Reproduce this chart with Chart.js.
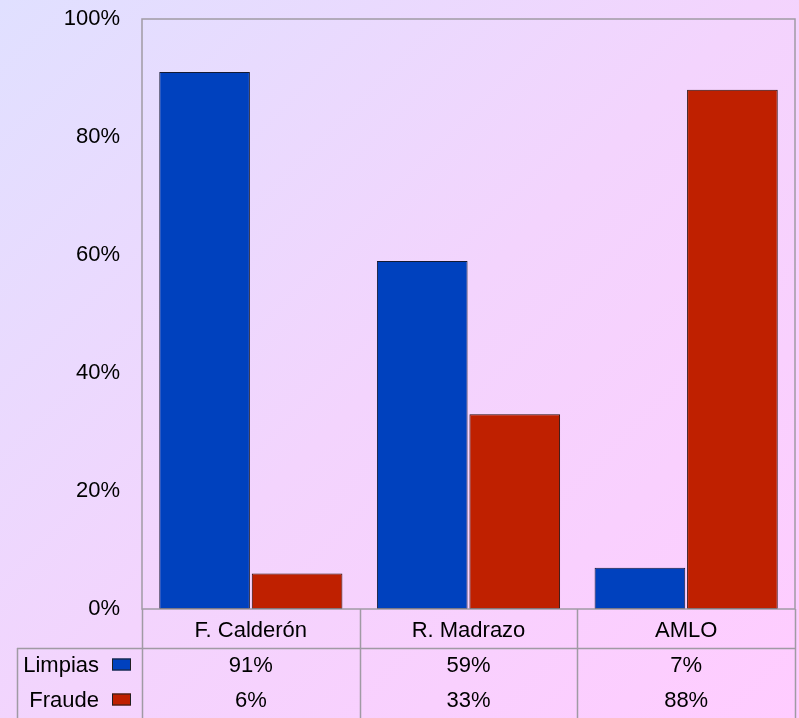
<!DOCTYPE html>
<html>
<head>
<meta charset="utf-8">
<script src="https://cdn.jsdelivr.net/npm/chart.js@4/dist/chart.umd.min.js"></script>
<style>
  html, body { margin: 0; padding: 0; }
  body { width: 799px; height: 718px; overflow: hidden;
    background: linear-gradient(135deg, #e0e0ff 0%, #f3d4fd 50%, #ffccff 100%); }
  canvas { display: block; }
</style>
</head>
<body>
<canvas id="myChart" width="799" height="718"></canvas>
<script>
var categories = ["F. Calderón", "R. Madrazo", "AMLO"];
var seriesNames = ["Limpias", "Fraude"];
var limpias = [91, 59, 7];
var fraude = [6, 33, 88];
var yTicks = [0, 20, 40, 60, 80, 100];

var colors = ["#0041be", "#bf2000"];
var lineColor = "#a09aa4";
var font = "22px 'Liberation Sans', Arial, sans-serif";

// draws the plot frame and the data table under the x axis
var tablePlugin = {
  id: "table",
  afterDraw: function (chart) {
    var ctx = chart.ctx;
    var a = chart.chartArea;
    var x = chart.scales.x;
    var rowTop = 648, rowH = 35, left = 17, bottom = 718;
    var series = [limpias, fraude];
    var step = x.getPixelForValue(1) - x.getPixelForValue(0);
    ctx.save();
    ctx.strokeStyle = lineColor;
    ctx.lineWidth = 1.5;
    ctx.strokeRect(a.left, a.top, a.right - a.left, a.bottom - a.top);
    ctx.beginPath();
    // category dividers
    for (var i = 0; i <= categories.length; i++) {
      var px = x.getPixelForValue(i) - step / 2;
      ctx.moveTo(Math.round(px) + 0.5, a.bottom);
      ctx.lineTo(Math.round(px) + 0.5, bottom);
    }
    ctx.moveTo(left + 0.5, rowTop);
    ctx.lineTo(left + 0.5, bottom);
    ctx.moveTo(left, rowTop + 0.5);
    ctx.lineTo(a.right, rowTop + 0.5);
    ctx.stroke();

    ctx.font = font;
    ctx.textBaseline = "middle";
    for (var s = 0; s < series.length; s++) {
      var cy = rowTop + rowH * s + rowH / 2;
      ctx.textAlign = "right";
      ctx.fillStyle = "#000";
      ctx.fillText(seriesNames[s], 99, cy);
      ctx.fillStyle = colors[s];
      ctx.fillRect(112, cy - 7, 19, 12);
      ctx.strokeStyle = "#202020";
      ctx.lineWidth = 1;
      ctx.strokeRect(112.5, cy - 6.5, 18, 11);
      ctx.fillStyle = "#000";
      ctx.textAlign = "center";
      for (var c = 0; c < categories.length; c++) {
        ctx.fillText(series[s][c] + "%", x.getPixelForValue(c), cy);
      }
    }
    ctx.restore();
  }
};

var ctx = document.getElementById("myChart").getContext("2d");
var chart = new Chart(ctx, {
  type: "bar",
  data: {
    labels: categories,
    datasets: [
      { label: seriesNames[0], data: limpias, backgroundColor: colors[0],
        borderColor: "#141a33", borderWidth: 1, borderSkipped: false,
        categoryPercentage: 0.85, barPercentage: 0.98 },
      { label: seriesNames[1], data: fraude, backgroundColor: colors[1],
        borderColor: "#2a0c08", borderWidth: 1, borderSkipped: false,
        categoryPercentage: 0.85, barPercentage: 0.98 }
    ]
  },
  options: {
    responsive: false,
    animation: false,
    events: [],
    layout: { padding: { top: 19, right: 4, left: 0, bottom: 0 } },
    plugins: { legend: { display: false }, tooltip: { enabled: false } },
    scales: {
      y: {
        min: 0, max: 100,
        afterBuildTicks: function (scale) {
          scale.ticks = yTicks.map(function (v) { return { value: v }; });
        },
        afterFit: function (scale) {
          scale.width = 142;
          scale.paddingTop = 0;
          scale.paddingBottom = 0;
        },
        grid: { display: false, drawTicks: false },
        border: { display: false },
        ticks: { padding: 22, color: "#000", font: { family: "'Liberation Sans', Arial, sans-serif", size: 22 },
          callback: function (v) { return v + "%"; } }
      },
      x: {
        afterFit: function (scale) {
          scale.height = 109;
          scale.paddingLeft = 0;
          scale.paddingRight = 0;
        },
        grid: { display: false, drawTicks: false },
        border: { display: false },
        ticks: { padding: 9, color: "#000", maxRotation: 0, font: { family: "'Liberation Sans', Arial, sans-serif", size: 22 } }
      }
    }
  },
  plugins: [tablePlugin]
});
</script>
</body>
</html>
